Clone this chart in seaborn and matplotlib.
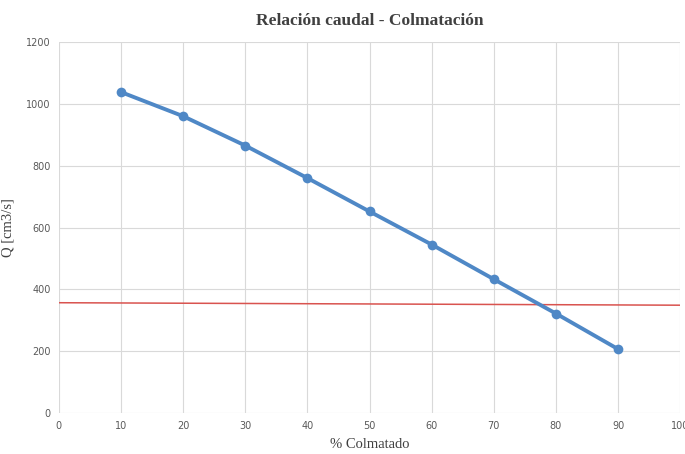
import numpy as np
import pandas as pd
import seaborn as sns
import matplotlib.pyplot as plt
from matplotlib import font_manager

# Data
colmatado = [10, 20, 30, 40, 50, 60, 70, 80, 90]
caudal = [1038, 960, 865, 760, 652, 545, 433, 322, 207]

# Reference (red) line endpoints
ref_x = [0, 100]
ref_y = [357, 349]

df = pd.DataFrame({'% Colmatado': colmatado, 'Q': caudal})

sns.set_style('whitegrid')
names = {f.name for f in font_manager.fontManager.ttflist}
tick_font = 'Liberation Sans Narrow' if 'Liberation Sans Narrow' in names else 'DejaVu Sans'
plt.rcParams['font.family'] = ['Liberation Serif', 'DejaVu Serif']

fig = plt.figure(figsize=(6.85, 4.54), dpi=100)
ax = fig.add_axes([0.086, 0.090, 0.907, 0.8175])

ax.plot(ref_x, ref_y, color='#d9534f', linewidth=1.1, zorder=2)
sns.lineplot(data=df, x='% Colmatado', y='Q', ax=ax, color='#4f88c6',
             linewidth=2.8, marker='o', markersize=7, markeredgewidth=0, zorder=3)

ax.set_xlim(0, 100)
ax.set_ylim(0, 1200)
ax.set_xticks(np.arange(0, 101, 10))
ax.set_yticks(np.arange(0, 1201, 200))
ax.grid(True, color='#d9d9d9', linewidth=0.8)
for s in ax.spines.values():
    s.set_visible(False)
ax.tick_params(axis='both', length=0, labelsize=7, colors='#595959', pad=6)
for lab in ax.get_xticklabels() + ax.get_yticklabels():
    lab.set_family(tick_font)

ax.set_title('Relación caudal - Colmatación', fontsize=12.5, fontweight='bold',
             color='#404040', pad=12)
ax.set_xlabel('% Colmatado', fontsize=10.5, color='#404040', labelpad=5)
ax.set_ylabel('Q [cm3/s]', fontsize=10.5, color='#404040', labelpad=8)

fig.savefig('out.png', dpi=100)
